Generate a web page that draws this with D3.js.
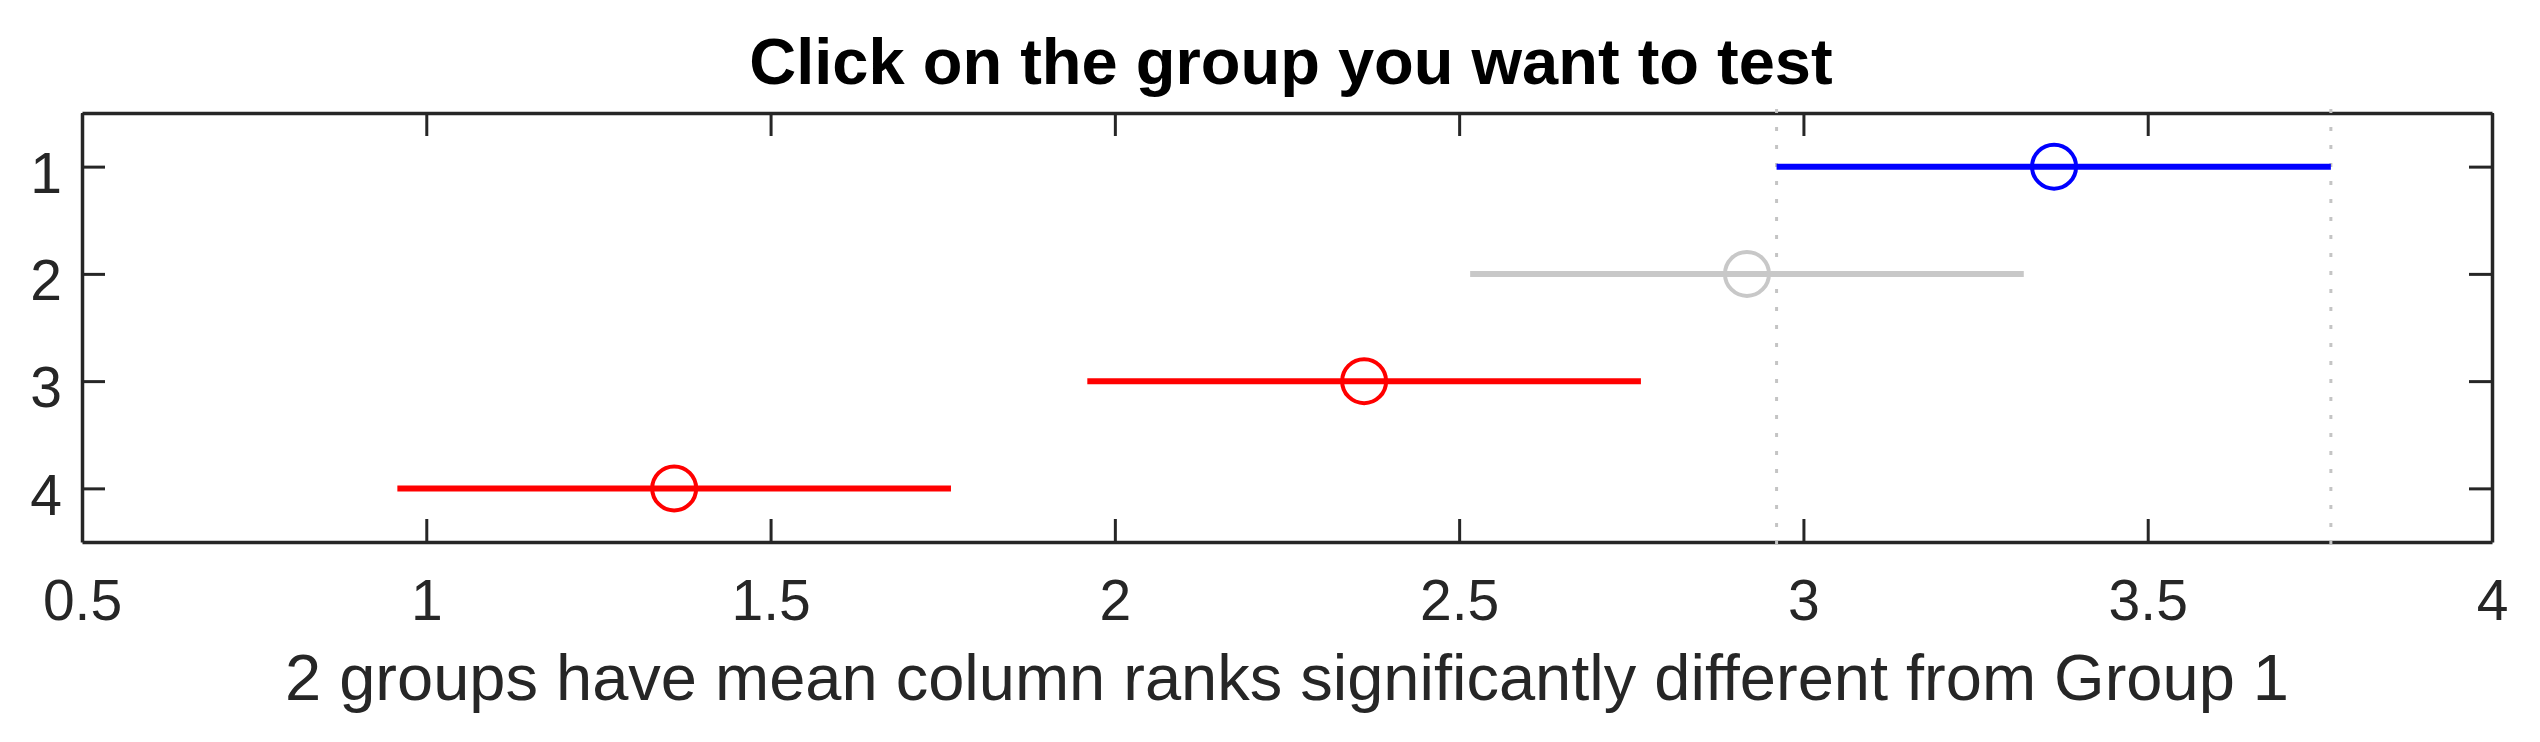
<!DOCTYPE html>
<html>
<head>
<meta charset="utf-8">
<script src="https://cdn.jsdelivr.net/npm/d3@7"></script>
<style>
  html, body { margin: 0; padding: 0; background: #fff; }
  svg { display: block; }
  text { font-family: "Liberation Sans", Arial, Helvetica, sans-serif; }
</style>
</head>
<body>
<div id="chart"></div>
<script>
// group index (y), estimated means and comparison intervals
const groups = [1, 2, 3, 4];
const means = [3.364, 2.918, 2.362, 1.360];
const lower = [2.961, 2.516, 1.960, 0.958];
const upper = [3.766, 3.320, 2.764, 1.762];
const colors = ['#0000ff', '#c8c8c8', '#ff0000', '#ff0000'];

const xTicks = [0.5, 1, 1.5, 2, 2.5, 3, 3.5, 4];
const yTicks = [1, 2, 3, 4];

const titleText = 'Click on the group you want to test';
const xLabelText = '2 groups have mean column ranks significantly different from Group 1';

const width = 2540;
const height = 742;
const margin = { top: 113, right: 48, bottom: 200, left: 82 };
const axisColor = '#262626';

const svg = d3.select('#chart').append('svg')
  .attr('width', width)
  .attr('height', height);

svg.append('rect')
  .attr('width', width)
  .attr('height', height)
  .attr('fill', '#fff');

const x = d3.scaleLinear()
  .domain([0.5, 4])
  .range([margin.left, width - margin.right]);

const y = d3.scaleLinear()
  .domain([0.5, 4.5])
  .range([margin.top, height - margin.bottom]);

const fmt = d3.format('~g');
const tickLen = 23;

// axes (box with ticks on all four sides, pointing in)
function styleAxis(g) {
  g.select('.domain').attr('stroke', axisColor).attr('stroke-width', 3.5);
  g.selectAll('.tick line').attr('stroke', axisColor).attr('stroke-width', 3);
  g.selectAll('.tick text')
    .attr('fill', axisColor)
    .attr('font-size', 57);
}

svg.append('g')
  .attr('transform', `translate(0,${y(4.5)})`)
  .call(d3.axisBottom(x).tickValues(xTicks).tickFormat(fmt)
    .tickSizeInner(-tickLen).tickSizeOuter(0).tickPadding(38))
  .call(styleAxis);

svg.append('g')
  .attr('transform', `translate(0,${y(0.5)})`)
  .call(d3.axisTop(x).tickValues(xTicks).tickFormat('')
    .tickSizeInner(-tickLen).tickSizeOuter(0))
  .call(styleAxis);

svg.append('g')
  .attr('transform', `translate(${x(0.5)},0)`)
  .call(d3.axisLeft(y).tickValues(yTicks).tickFormat(fmt)
    .tickSizeInner(-tickLen).tickSizeOuter(0).tickPadding(20))
  .call(styleAxis)
  .call((g) => g.selectAll('.tick text').attr('dy', '0.45em'));

svg.append('g')
  .attr('transform', `translate(${x(4)},0)`)
  .call(d3.axisRight(y).tickValues(yTicks).tickFormat('')
    .tickSizeInner(-tickLen).tickSizeOuter(0))
  .call(styleAxis);

// dotted reference lines at the selected group's interval
const sel = 0;
svg.selectAll('line.ref')
  .data([lower[sel], upper[sel]])
  .join('line')
  .attr('class', 'ref')
  .attr('x1', (d) => x(d))
  .attr('x2', (d) => x(d))
  .attr('y1', y(0.5) - 4)
  .attr('y2', y(4.5) + 4)
  .attr('stroke', '#c4c4c4')
  .attr('stroke-width', 3)
  .attr('stroke-dasharray', '4,14');

// interval lines
svg.selectAll('line.ci')
  .data(groups)
  .join('line')
  .attr('class', 'ci')
  .attr('x1', (d, i) => x(lower[i]))
  .attr('x2', (d, i) => x(upper[i]))
  .attr('y1', (d) => y(d))
  .attr('y2', (d) => y(d))
  .attr('stroke', (d, i) => colors[i])
  .attr('stroke-width', 6);

// mean markers
svg.selectAll('circle.mean')
  .data(groups)
  .join('circle')
  .attr('class', 'mean')
  .attr('cx', (d, i) => x(means[i]))
  .attr('cy', (d) => y(d))
  .attr('r', 22)
  .attr('fill', 'none')
  .attr('stroke', (d, i) => colors[i])
  .attr('stroke-width', 4);

// title
svg.append('text')
  .attr('x', (x(0.5) + x(4)) / 2 + 4)
  .attr('y', 84)
  .attr('text-anchor', 'middle')
  .attr('font-size', 65)
  .attr('font-weight', 'bold')
  .attr('fill', '#000')
  .text(titleText);

// x label
svg.append('text')
  .attr('x', (x(0.5) + x(4)) / 2)
  .attr('y', 700)
  .attr('text-anchor', 'middle')
  .attr('font-size', 65)
  .attr('fill', axisColor)
  .text(xLabelText);
</script>
</body>
</html>
